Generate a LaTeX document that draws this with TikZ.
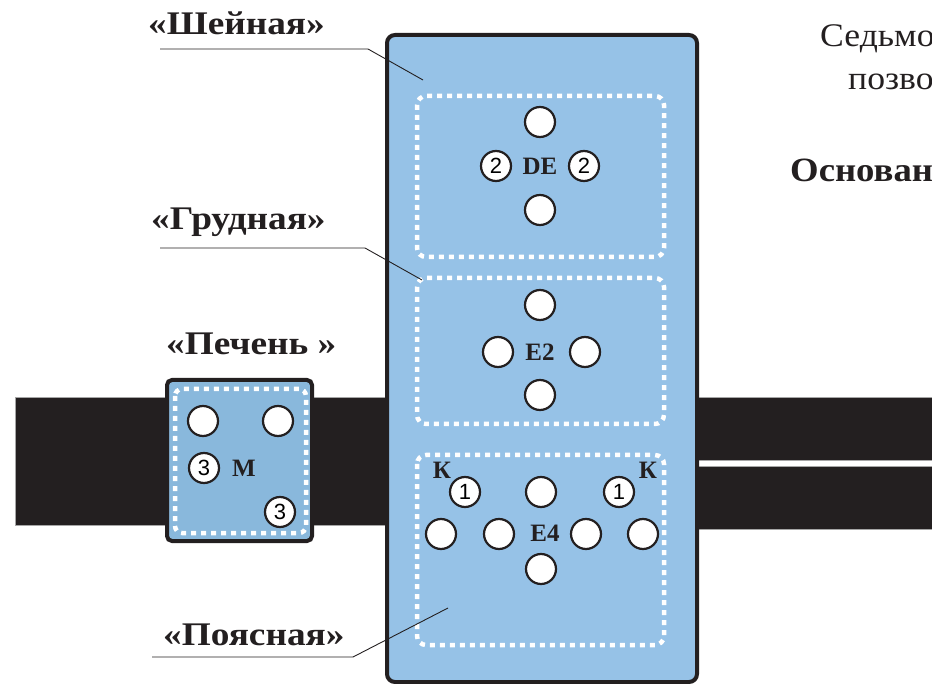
\documentclass[tikz,border=0pt]{standalone}
\usepackage{fontspec}
\setmainfont{Liberation Serif}
\newfontfamily\numfont{Liberation Sans}
\newfontfamily\headfont[FakeStretch=1.13]{Liberation Serif}
\newfontfamily\wideTextFont[FakeStretch=1.08]{Liberation Serif}
\usetikzlibrary{positioning}
\definecolor{beltBlack}{HTML}{231F20}
\definecolor{panelBlue}{HTML}{96C2E7}
\definecolor{liverBlue}{HTML}{89B8DC}
\tikzset{
    objBelt/.style={fill=beltBlack, draw=black!35, line width=0.6pt},
    objPanel/.style={draw=beltBlack, line width=4pt, fill=panelBlue, rounded corners=8pt},
    objZone/.style={draw=white, line width=4.5pt, dash pattern=on 5pt off 5pt, rounded corners=9pt},
    objPoint/.style={circle, draw=beltBlack, line width=2.2pt, fill=white, minimum size=30pt, inner sep=0pt},
    objNumPoint/.style={objPoint, font=\numfont\fontsize{22}{22}\selectfont},
    objLabel/.style={font=\bfseries\fontsize{25}{25}\selectfont, text=beltBlack, inner sep=0pt},
    objHeading/.style={font=\headfont\bfseries\fontsize{33}{33}\selectfont, text=beltBlack, anchor=base west, inner sep=0pt},
    objText/.style={font=\wideTextFont\fontsize{33}{33}\selectfont, text=beltBlack, anchor=base west, inner sep=0pt},
    leader/.style={draw=beltBlack, line width=0.9pt}
}

\begin{document}
\begin{tikzpicture}[x=1pt, y=-1pt]
    \useasboundingbox (0,0) rectangle (932,684);
    \clip (0,0) rectangle (932,684);

    % belt
    \draw[objBelt] (15,397) rectangle (392,525);
    \draw[objBelt] (692,397) rectangle (940,460);
    \draw[objBelt] (692,466) rectangle (940,529);

    % main panel
    \draw[objPanel] (387,35) rectangle (697,682);
    \draw[objZone] (417,96) rectangle (664,257);
    \draw[objZone] (417,278) rectangle (664,424);
    \draw[objZone] (417,455) rectangle (664,645);

    % liver box
    \draw[objPanel, fill=liverBlue, rounded corners=5pt] (167,380) rectangle (312,541);
    \draw[objZone, rounded corners=7pt] (175,389) rectangle (306,533);

    % neck zone
    \node (de) [objLabel] at (540,166) {DE};
    \node (deN) [objPoint] at (540,122) {};
    \node (deS) [objPoint] at (540,210) {};
    \node (deW) [objNumPoint] at (496,166) {2};
    \node (deE) [objNumPoint] at (584,166) {2};

    % chest zone
    \node (e2) [objLabel] at (540,352) {E2};
    \node (e2N) [objPoint] at (540,305) {};
    \node (e2S) [objPoint] at (540,395) {};
    \node (e2W) [objPoint] at (498,352) {};
    \node (e2E) [objPoint] at (585,352) {};

    % waist zone
    \node (e4) [objLabel] at (545,533) {E4};
    \node (kW) [objLabel] at (442,470) {К};
    \node (kE) [objLabel] at (648,470) {К};
    \node (e4kW) [objNumPoint] at (465,492) {1};
    \node (e4kE) [objNumPoint] at (619,492) {1};
    \node (e4N) [objPoint] at (541,492) {};
    \node (e4W2) [objPoint] at (441,534) {};
    \node (e4W1) [objPoint] at (499,534) {};
    \node (e4E1) [objPoint] at (586,534) {};
    \node (e4E2) [objPoint] at (643,534) {};
    \node (e4S) [objPoint] at (541,569) {};

    % liver zone
    \node (m) [objLabel] at (244,468) {М};
    \node (mNW) [objPoint] at (203,421) {};
    \node (mNE) [objPoint] at (278,421) {};
    \node (mW) [objNumPoint] at (204,468) {3};
    \node (mSE) [objNumPoint] at (280,512) {3};

    % headings
    \node (neck) [objHeading] at (148,35) {«Шейная»};
    \node (chest) [objHeading] at (151,230) {«Грудная»};
    \node (liver) [objHeading] at (166,355) {«Печень »};
    \node (waist) [objHeading] at (163,645) {«Поясная»};

    \coordinate (neckA) at (160,49);
    \coordinate (neckB) at (368,49);
    \coordinate (neckC) at (423,80);
    \coordinate (chestA) at (160,248);
    \coordinate (chestB) at (365,248);
    \coordinate (chestC) at (422,280);
    \coordinate (waistA) at (152,657);
    \coordinate (waistB) at (353,657);
    \coordinate (waistC) at (448,608);

    \draw[leader] (neckA) -- (neckB) -- (neckC);
    \draw[leader] (chestA) -- (chestB) -- (chestC);
    \draw[leader] (waistA) -- (waistB) -- (waistC);

    % text on the right
    \node (txt1) [objText] at (820,47) {Седьмо};
    \node (txt2) [objText] at (848,90) {позво};
    \node (txt3) [objText, font=\wideTextFont\bfseries\fontsize{34}{34}\selectfont] at (790,182) {Основан};

\end{tikzpicture}
\end{document}
